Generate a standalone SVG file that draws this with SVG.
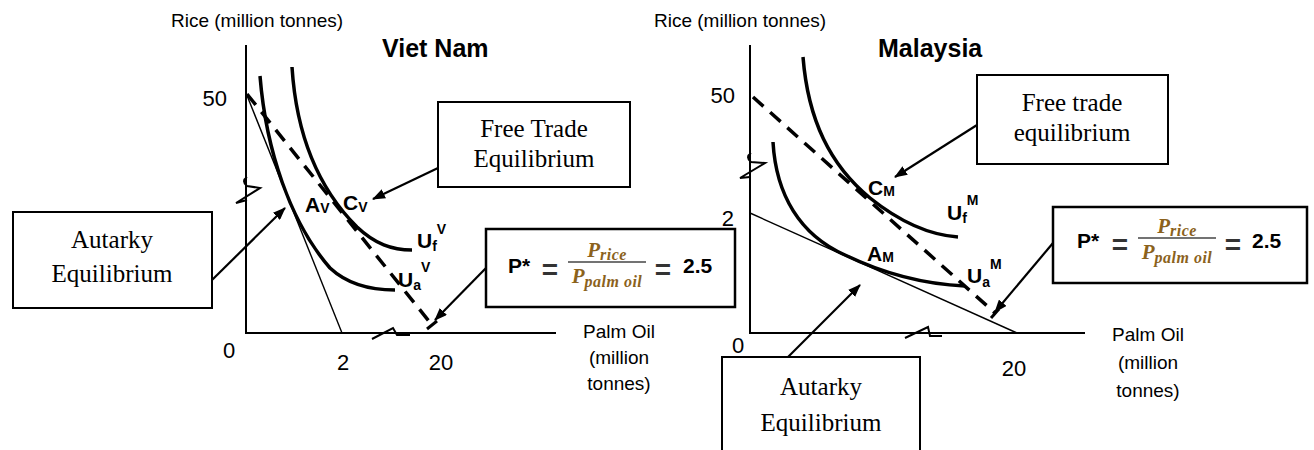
<svg xmlns="http://www.w3.org/2000/svg" width="1314" height="450" viewBox="0 0 1314 450">
<style>
.ax{stroke:#000;stroke-width:2;fill:none}
.sq{stroke:#000;stroke-width:2;fill:none;stroke-linejoin:miter}
.ic{stroke:#000;stroke-width:3.5;fill:none;stroke-linecap:butt}
.bl{stroke:#000;stroke-width:1.4;fill:none}
.dl{stroke:#000;stroke-width:3.5;fill:none;stroke-dasharray:14 9}
.tk{stroke:#000;stroke-width:3;fill:none}
.box{fill:#fff;stroke:#000;stroke-width:2}
.pbox{fill:#fff;stroke:#000;stroke-width:2.5}
.arr{stroke:#000;stroke-width:2.2;fill:none;marker-end:url(#ah)}
.lab{font-family:"Liberation Sans",Arial,sans-serif;font-size:19px;fill:#000}
.mid{text-anchor:middle}
.num{font-family:"Liberation Sans",Arial,sans-serif;font-size:22px;fill:#000}
.ttl{font-family:"Liberation Sans",Arial,sans-serif;font-weight:bold;font-size:25px;fill:#000}
.pt{font-family:"Liberation Sans",Arial,sans-serif;font-weight:bold;font-size:21px;fill:#000}
.sub{font-size:14px}
.ser{font-family:"Liberation Serif","Times New Roman",serif;font-size:25px;text-anchor:middle;fill:#000}
.eq{font-family:"Liberation Sans",Arial,sans-serif;font-weight:bold;font-size:28px;fill:#333;text-anchor:middle}
.fr{font-family:"Liberation Serif","Times New Roman",serif;font-style:italic;font-weight:bold;font-size:21px;fill:#8b621c;text-anchor:middle}
.frs{font-size:16px;letter-spacing:0.5px}
.fbar{stroke:#444;stroke-width:1.6}
</style>
<defs>
<marker id="ah" markerWidth="13" markerHeight="10" refX="12" refY="5" orient="auto" markerUnits="userSpaceOnUse">
<path d="M0,0 L13,5 L0,10 z" fill="#000"/>
</marker>
</defs>

<!-- Viet Nam panel -->
<g id="vietnam-chart">
<text class="lab" x="171" y="27">Rice (million tonnes)</text>
<text class="ttl" x="382" y="57">Viet Nam</text>
<path class="ax" d="M246,45 V333 H556"/>
<path class="sq" d="M247,177 Q241,181 247,186 L260,188 L236,203 L247,200"/>
<path class="sq" d="M372,339 L393,328 L397,335 L410,335"/>
<path class="bl" d="M246,93 L342,333"/>
<path class="dl" d="M247,94 L432,325"/>
<path class="tk" d="M427,329 L437,321"/>
<path class="ic" d="M260,76 C266,150 290,222 330,268 C345,282 368,290 395,290"/>
<path class="ic" d="M292,67 C296,130 315,185 357,227 C375,244 392,250 412,250"/>
<text class="num" x="227" y="106" text-anchor="end">50</text>
<text class="num mid" x="229" y="358">0</text>
<text class="num mid" x="343" y="370">2</text>
<text class="num mid" x="441" y="370">20</text>
<text class="pt" x="305" y="212">A<tspan class="sub" dy="1">V</tspan></text>
<text class="pt" x="343" y="210">C<tspan class="sub" dy="2">V</tspan></text>
<text class="pt" x="417" y="248">U<tspan class="sub" dy="3">f</tspan><tspan class="sub" dy="-17">V</tspan></text>
<text class="pt" x="398" y="287">U<tspan class="sub" dy="3">a</tspan><tspan class="sub" dy="-18">V</tspan></text>
<text class="lab mid" x="619" y="338">Palm Oil</text>
<text class="lab mid" x="619" y="364">(million</text>
<text class="lab mid" x="619" y="390">tonnes)</text>
</g>

<!-- Malaysia panel -->
<g id="malaysia-chart">
<text class="lab" x="654" y="27">Rice (million tonnes)</text>
<text class="ttl" x="878" y="57">Malaysia</text>
<path class="ax" d="M750,45 V333 H1085"/>
<path class="sq" d="M751,153 Q745,157 751,162 L765,163 L740,178 L750,177"/>
<path class="sq" d="M905,338 L928,327 L930,336 L942,336"/>
<path class="bl" d="M750,213 L1017,333"/>
<path class="dl" d="M753,97 L995,313"/>
<path class="tk" d="M991,318 L999,309"/>
<path class="ic" d="M803,57 C808,120 830,165 870,198 C900,222 930,235 958,237"/>
<path class="ic" d="M773,142 C776,195 800,235 845,255 C880,272 920,284 965,286"/>
<text class="num" x="735" y="103" text-anchor="end">50</text>
<text class="num" x="734" y="226" text-anchor="end">2</text>
<text class="num mid" x="738" y="353">0</text>
<text class="num mid" x="1014" y="376">20</text>
<text class="pt" x="868" y="195">C<tspan class="sub" dy="1">M</tspan></text>
<text class="pt" x="867" y="261">A<tspan class="sub" dy="1">M</tspan></text>
<text class="pt" x="947" y="220">U<tspan class="sub" dy="3">f</tspan><tspan class="sub" dy="-18">M</tspan></text>
<text class="pt" x="967" y="283">U<tspan class="sub" dy="4">a</tspan><tspan class="sub" dy="-18">M</tspan></text>
<text class="lab mid" x="1148" y="341">Palm Oil</text>
<text class="lab mid" x="1148" y="369">(million</text>
<text class="lab mid" x="1148" y="397">tonnes)</text>
</g>

<!-- connectors -->
<g id="connectors">
<path class="arr" d="M438,168 L373,199"/>
<path class="arr" d="M212,280 L285,208"/>
<path class="arr" d="M486,268 L435,320"/>
<path class="arr" d="M977,125 L895,177"/>
<path class="arr" d="M788,357 L860,285"/>
<path class="arr" d="M1053,243 L995,312"/>
</g>

<!-- boxes -->
<g id="free-trade-vn">
<rect class="box" x="438" y="102" width="192" height="85"/>
<text class="ser" x="534" y="137">Free Trade</text>
<text class="ser" x="534" y="167">Equilibrium</text>
</g>
<g id="autarky-vn">
<rect class="box" x="13" y="212" width="199" height="96"/>
<text class="ser" x="112" y="248">Autarky</text>
<text class="ser" x="112" y="282">Equilibrium</text>
</g>
<g id="price-vn" transform="translate(486,229)">
<rect class="pbox" x="0" y="0" width="249" height="78"/>
<text class="pt" x="22" y="44">P*</text>
<text class="eq" x="64" y="50">=</text>
<text class="fr" x="121" y="28">P<tspan class="frs" dy="3">rice</tspan></text>
<line class="fbar" x1="82" y1="33" x2="160" y2="33"/>
<text class="fr" x="121" y="54">P<tspan class="frs" dy="4">palm oil</tspan></text>
<text class="eq" x="177" y="50">=</text>
<text class="pt" x="197" y="44">2.5</text>
</g>
<g id="free-trade-my">
<rect class="box" x="977" y="75" width="191" height="89"/>
<text class="ser" x="1072" y="111">Free trade</text>
<text class="ser" x="1072" y="141">equilibrium</text>
</g>
<g id="autarky-my">
<rect class="box" x="722" y="357" width="198" height="110"/>
<text class="ser" x="821" y="395">Autarky</text>
<text class="ser" x="821" y="431">Equilibrium</text>
</g>
<g id="price-my" transform="translate(1053,207)">
<rect class="pbox" x="0" y="0" width="254" height="76"/>
<text class="pt" x="24" y="41">P*</text>
<text class="eq" x="67" y="47">=</text>
<text class="fr" x="124" y="26">P<tspan class="frs" dy="3">rice</tspan></text>
<line class="fbar" x1="85" y1="31" x2="163" y2="31"/>
<text class="fr" x="124" y="52">P<tspan class="frs" dy="4">palm oil</tspan></text>
<text class="eq" x="180" y="47">=</text>
<text class="pt" x="199" y="41">2.5</text>
</g>
</svg>
